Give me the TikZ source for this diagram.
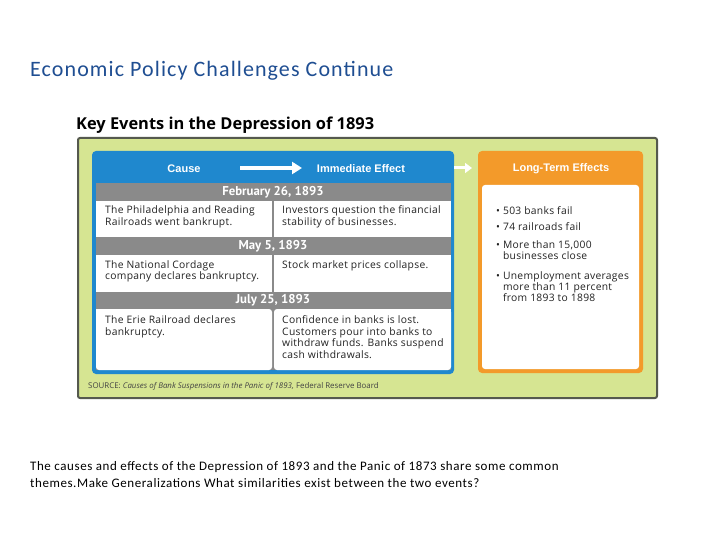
\documentclass[tikz,border=0pt]{standalone}
\usepackage{fontspec}
\setmainfont{Carlito}
\newfontfamily\tabfont[LetterSpace=3]{Open Sans}
\newfontfamily\srcfont{Open Sans}
\newfontfamily\datefont{PT Sans}
\newfontfamily\headfont{Liberation Sans}
\newfontfamily\keyfont{Open Sans}
\newfontfamily\titlefont[LetterSpace=5]{Carlito}
\newfontfamily\bodyfont[LetterSpace=4.4]{Carlito}
\usetikzlibrary{arrows.meta}
\definecolor{titleblue}{HTML}{1F4E92}
\definecolor{panelgreen}{HTML}{D6E592}
\definecolor{borderdark}{HTML}{55594E}
\definecolor{blueC}{HTML}{1F88CE}
\definecolor{orangeC}{HTML}{F39A2A}
\definecolor{bandgray}{HTML}{8A8A8A}
\definecolor{textgray}{HTML}{222222}
\tikzset{
  celltext/.style={anchor=north west, inner sep=0pt, align=left, text=textgray,
    font=\tabfont\fontsize{10.3}{11.6}\selectfont},
  datetext/.style={inner sep=0pt, text=white, font=\datefont\bfseries\fontsize{12.8}{14}\selectfont},
  headtext/.style={inner sep=0pt, text=white, font=\headfont\bfseries\fontsize{11}{13}\selectfont},
  bullettext/.style={anchor=north west, inner sep=0pt, align=left, text=textgray,
    font=\tabfont\fontsize{10.3}{11.2}\selectfont},
  whitearrow/.style={draw=white, line width=4pt, -{Triangle[length=10pt,width=12pt]}},
}
\begin{document}
\begin{tikzpicture}[x=1pt,y=-1pt]
\useasboundingbox[fill=white] (0,0) rectangle (720,540);

% slide title
\node[anchor=base west, inner sep=0pt, text=titleblue, font=\titlefont\fontsize{22}{26}\selectfont] (title) at (30,77) {Economic Policy Challenges Continue};

% figure title
\node[anchor=base west, inner sep=0pt, font=\keyfont\bfseries\fontsize{16.4}{19}\selectfont] (keytitle) at (76,130) {Key Events in the Depression of 1893};

% green panel
\draw[draw=borderdark, line width=2pt, fill=panelgreen, rounded corners=2pt] (78,138) rectangle (657,398);

% blue box
\fill[blueC, rounded corners=4pt] (92,151) rectangle (454,374);
\fill[bandgray] (96,183) rectangle (451,370);
\fill[white] (96,201) rectangle (272,237);
\fill[white] (274,201) rectangle (451,237);
\fill[white] (96,255) rectangle (272,292);
\fill[white] (274,255) rectangle (451,292);
\fill[white, rounded corners=3pt] (96,309) -- (272,309) -- (272,370) -- (96,370) -- cycle;
\fill[white, rounded corners=3pt] (274,309) -- (451,309) -- (451,370) -- (274,370) -- cycle;
\fill[white] (96,309) rectangle (100,313);
\fill[white] (447,309) rectangle (451,313);

% headers
\node[headtext] (cause) at (184,168.5) {Cause};
\node[headtext] (immediate) at (361,168.5) {Immediate Effect};
\coordinate (a1s) at (240,168);
\coordinate (a1e) at (302,168);
\draw[whitearrow] (a1s) -- (a1e);

% dates
\node[datetext] (d1) at (273,192) {February 26, 1893};
\node[datetext] (d2) at (273,246) {May 5, 1893};
\node[datetext] (d3) at (273,300.5) {July 25, 1893};

% cells
\node[celltext] (c1) at (105,205.5) {The Philadelphia and Reading\\Railroads went bankrupt.};
\node[celltext] (e1) at (282,205.5) {Investors question the financial\\stability of businesses.};
\node[celltext] (c2) at (105,260) {The National Cordage\\company declares bankruptcy.};
\node[celltext] (e2) at (282,260) {Stock market prices collapse.};
\node[celltext] (c3) at (105,315.5) {The Erie Railroad declares\\bankruptcy.};
\node[celltext] (e3) at (282,315.5) {Confidence in banks is lost.\\Customers pour into banks to\\withdraw funds. Banks suspend\\cash withdrawals.};

% orange box
\fill[orangeC, rounded corners=4pt] (478,151) rectangle (643,373);
\fill[white, rounded corners=3pt] (482,185) rectangle (639,369);
\node[headtext] (longterm) at (561,168.5) {Long-Term Effects};
\coordinate (a2s) at (454,168);
\coordinate (a2e) at (472,168);
\draw[draw=white, line width=3pt, -{Triangle[length=7pt,width=10pt]}] (a2s) -- (a2e);

\node[bullettext] (b1) at (496,206.5) {\textbullet\ 503 banks fail};
\node[bullettext] (b2) at (496,222.5) {\textbullet\ 74 railroads fail};
\node[bullettext] (b3) at (496,240.5) {\textbullet\ More than 15,000\\\phantom{\textbullet\ }businesses close};
\node[bullettext] (b4) at (496,271.5) {\textbullet\ Unemployment averages\\\phantom{\textbullet\ }more than 11 percent\\\phantom{\textbullet\ }from 1893 to 1898};

% source
\node[anchor=west, inner sep=0pt, text=textgray!85, font=\srcfont\fontsize{7.9}{9}\selectfont] (source) at (88,386) {SOURCE: \textit{Causes of Bank Suspensions in the Panic of 1893,} Federal Reserve Board};

% bottom text
\node[anchor=north west, inner sep=0pt, align=left, font=\bodyfont\fontsize{13}{17}\selectfont] (question) at (30,461.5) {The causes and effects of the Depression of 1893 and the Panic of 1873 share some common\\themes.Make Generalizations What similarities exist between the two events?};
\end{tikzpicture}
\end{document}
